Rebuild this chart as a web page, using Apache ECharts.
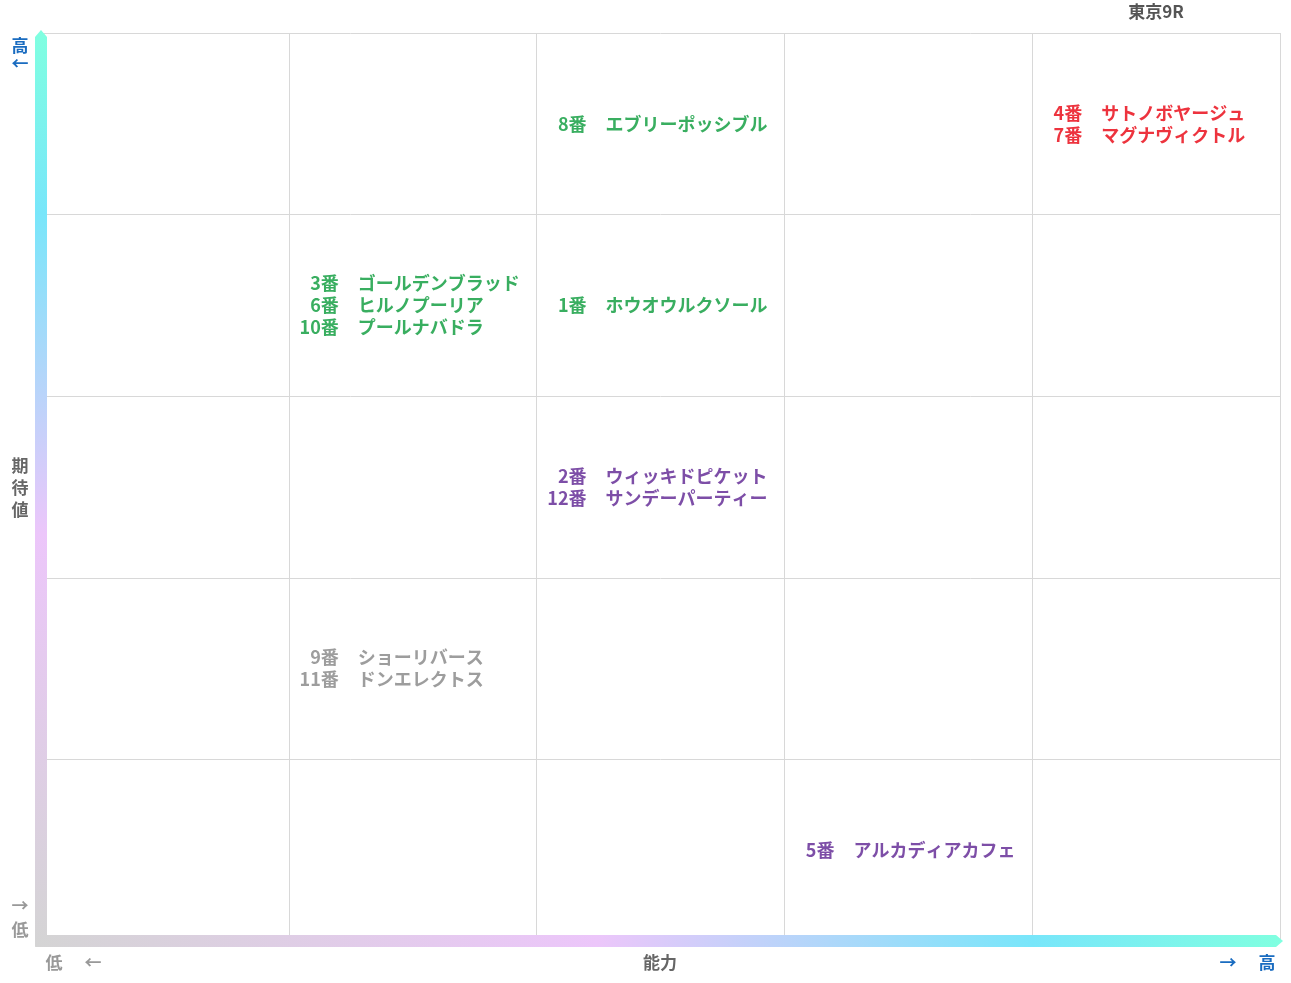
<!DOCTYPE html>
<html><head><meta charset="utf-8">
<script src="https://cdn.jsdelivr.net/npm/echarts@6/dist/echarts.min.js"></script>
<style>html,body{margin:0;background:#fff}#c{width:1291px;height:983px}</style>
</head><body><div id="c"></div>
<script>
// 馬データ（能力の列, 期待値の行, 色区分）
var horseNums  = ['8番', '4番', '7番', '3番', '6番', '10番', '1番', '2番', '12番', '9番', '11番', '5番'];
var horseNames = ['エブリーポッシブル', 'サトノボヤージュ', 'マグナヴィクトル', 'ゴールデンブラッド', 'ヒルノプーリア', 'プールナバドラ',
                  'ホウオウルクソール', 'ウィッキドピケット', 'サンデーパーティー', 'ショーリバース', 'ドンエレクトス', 'アルカディアカフェ'];
var ability    = [2, 4, 4, 1, 1, 1, 2, 2, 2, 1, 1, 3];   // 0..4 列
var expect     = [4, 4, 4, 3, 3, 3, 3, 2, 2, 1, 1, 0];   // 0..4 行
var group      = ['g', 'r', 'r', 'g', 'g', 'g', 'g', 'p', 'p', 'n', 'n', 'p'];
var colors = { g: '#089a38', r: '#e8000e', p: '#5c2291', n: '#858585' };
var FONT = '"Noto Sans CJK JP", sans-serif';

// セルごとにまとめる
var cells = {};
horseNums.forEach(function (n, i) {
    var k = ability[i] + '_' + expect[i];
    if (!cells[k]) cells[k] = { x: ability[i], y: expect[i] + 0.5, c: group[i], nums: [], names: [] };
    cells[k].nums.push(n);
    cells[k].names.push(horseNames[i]);
});
function cellData(key, dx, align) {
    return Object.keys(cells).map(function (k) {
        var c = cells[k];
        return {
            value: [c.x, c.y],
            label: { formatter: c[key].join('\n'), color: colors[c.c], offset: [dx, 0], align: align }
        };
    });
}
var lbl = { show: true, position: 'inside', verticalAlign: 'middle', fontSize: 18, fontWeight: 'bold', fontFamily: FONT, lineHeight: 22 };

var myChart = echarts.init(document.getElementById('c'));
myChart.setOption({
    animation: false,
    grid: { left: 41, top: 33, right: 11, bottom: 42 },
    xAxis: { type: 'value', min: 0, max: 5, interval: 1, axisLabel: { show: false }, axisTick: { show: false },
             axisLine: { show: false }, splitLine: { lineStyle: { color: '#d8d8d8' } } },
    yAxis: { type: 'value', min: 0, max: 5, interval: 1, axisLabel: { show: false }, axisTick: { show: false },
             axisLine: { show: false }, splitLine: { lineStyle: { color: '#d8d8d8' } } },
    series: [
        { type: 'scatter', symbolSize: 0, data: cellData('nums', 50, 'right'), label: lbl },
        { type: 'scatter', symbolSize: 0, data: cellData('names', 69, 'left'), label: lbl }
    ]
});

// 軸矢印・見出し
var o = myChart.convertToPixel('grid', [0, 0]);
var e = myChart.convertToPixel('grid', [5, 5]);
var stops = [{ offset: 0, color: '#d4d4d4' }, { offset: 0.45, color: '#ecc6fa' },
             { offset: 0.8, color: '#78e6fa' }, { offset: 1, color: '#80ffe0' }];
var txt = function (x, y, s, col) {
    return { type: 'text', x: x, y: y,
        style: { text: s, fill: col, font: 'bold 17px ' + FONT, align: 'center', verticalAlign: 'middle' } };
};
myChart.setOption({
    graphic: [
        { type: 'polygon', shape: { points: [[o[0] - 6, o[1] + 6], [o[0] - 6, e[1] + 4], [o[0], e[1] - 3], [o[0] + 6, e[1] + 4], [o[0] + 6, o[1]]] },
          style: { fill: new echarts.graphic.LinearGradient(0, 1, 0, 0, stops) } },
        { type: 'polygon', shape: { points: [[o[0] - 6, o[1] + 6], [e[0] - 4, o[1] + 6], [e[0] + 3, o[1]], [e[0] - 4, o[1] - 6], [o[0] + 6, o[1] - 6]] },
          style: { fill: new echarts.graphic.LinearGradient(0, 0, 1, 0, stops) } },
        txt(20, 46, '高', '#1a6cc0'), txt(20, 64, '←', '#1a6cc0'),
        txt(20, 466, '期', '#666'), txt(20, 488, '待', '#666'), txt(20, 510, '値', '#666'),
        txt(20, 906, '→', '#999'), txt(20, 930, '低', '#999'),
        txt(54, 963, '低', '#999'), txt(93, 963, '←', '#999'),
        txt(660, 963, '能力', '#666'),
        txt(1228, 963, '→', '#1a6cc0'), txt(1267, 963, '高', '#1a6cc0'),
        txt(1156, 12, '東京9R', '#555')
    ]
});
</script></body></html>
